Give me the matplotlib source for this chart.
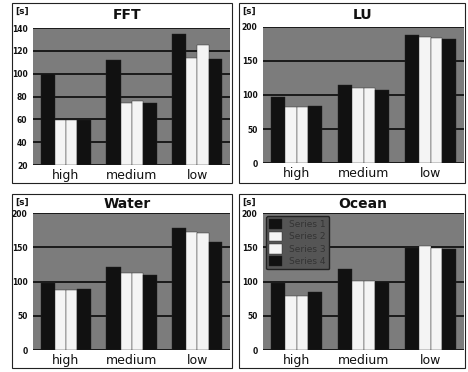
import matplotlib
matplotlib.use("Agg")
import matplotlib.pyplot as plt
from matplotlib.patches import Rectangle
import numpy as np

categories = ["high", "medium", "low"]
series_names = ["Series 1", "Series 2", "Series 3", "Series 4"]

titles = ["FFT", "LU", "Water", "Ocean"]

fft_vals = [[100, 112, 135], [59, 74, 114], [59, 76, 125], [59, 74, 113]]
lu_vals = [[97, 115, 188], [82, 110, 185], [82, 110, 184], [84, 108, 183]]
water_vals = [[98, 121, 178], [88, 112, 172], [88, 112, 171], [89, 110, 158]]
ocean_vals = [[98, 118, 149], [79, 101, 152], [79, 101, 149], [84, 100, 148]]

fft_ticks = [20, 40, 60, 80, 100, 120, 140]
lu_ticks = [0, 50, 100, 150, 200]
water_ticks = [0, 50, 100, 150, 200]
ocean_ticks = [0, 50, 100, 150, 200]

all_vals = [fft_vals, lu_vals, water_vals, ocean_vals]
all_ticks = [fft_ticks, lu_ticks, water_ticks, ocean_ticks]

W, H = 468, 372
fig = plt.figure(figsize=(W / 100, H / 100), dpi=100)
fig.patch.set_facecolor("white")

# axes rectangles in pixel coords: (x0, x1, ytop, ybottom)
ax_px = [(33, 230, 28, 165), (263, 464, 27, 163), (33, 230, 213, 350), (263, 464, 213, 350)]
frame_px = [(12, 232, 3, 183), (239, 465, 3, 183), (12, 232, 194, 368), (239, 465, 194, 368)]
title_px = [(127, 15), (363, 15), (127, 204), (363, 204)]

bar_widths = [0.22, 0.17, 0.17, 0.21]
bar_colors = ["#111111", "#f4f4f4", "#f4f4f4", "#111111"]

for i in range(4):
    x0, x1, yt, yb = ax_px[i]
    ax = fig.add_axes([x0 / W, 1 - yb / H, (x1 - x0) / W, (yb - yt) / H])
    ax.set_facecolor("#7c7c7c")
    ticks = all_ticks[i]
    vals = all_vals[i]
    base = ticks[0]
    ax.set_ylim(ticks[0], ticks[-1])
    ax.set_xlim(-0.5, 2.5)
    ax.set_yticks(ticks)
    ax.set_yticklabels([str(t) for t in ticks], fontsize=5.5, fontweight="bold", color="#111111")
    ax.yaxis.grid(True, color="#1a1a1a", linewidth=1.4)
    ax.set_axisbelow(True)
    ax.tick_params(axis="y", length=0, pad=4)
    ax.tick_params(axis="x", length=0, pad=3)
    ax.set_xticks(range(len(categories)))
    ax.set_xticklabels(categories, fontsize=9, color="#111111")
    for s in ax.spines.values():
        s.set_visible(False)
    total = sum(bar_widths)
    x = np.arange(len(categories))
    left = -total / 2
    for k in range(4):
        heights = np.array(vals[k], dtype=float) - base
        ax.bar(x + left + bar_widths[k] / 2, heights, width=bar_widths[k],
               bottom=base, color=bar_colors[k], edgecolor="#222222",
               linewidth=0.3, zorder=3, label=series_names[k])
        left += bar_widths[k]
    if i == 3:
        leg = ax.legend(loc="upper left", fontsize=6.5, frameon=True,
                        facecolor="#555555", edgecolor="#222222",
                        labelcolor="#333333", borderaxespad=0.3,
                        handlelength=1.4, handleheight=1.3, labelspacing=0.25)
        leg.get_frame().set_alpha(1)

    fx0, fx1, fyt, fyb = frame_px[i]
    fig.patches.append(Rectangle((fx0 / W, 1 - fyb / H), (fx1 - fx0) / W, (fyb - fyt) / H,
                                 transform=fig.transFigure, fill=False,
                                 edgecolor="#222222", linewidth=0.8))
    tx, ty = title_px[i]
    fig.text(tx / W, 1 - ty / H, titles[i], ha="center", va="center",
             fontsize=10, fontweight="bold", color="#111111")
    fig.text((fx0 + 3) / W, 1 - (fyt + 8) / H, "[s]", ha="left", va="center",
             fontsize=6.5, fontweight="bold", color="#111111")

fig.savefig("out.png", dpi=100)
